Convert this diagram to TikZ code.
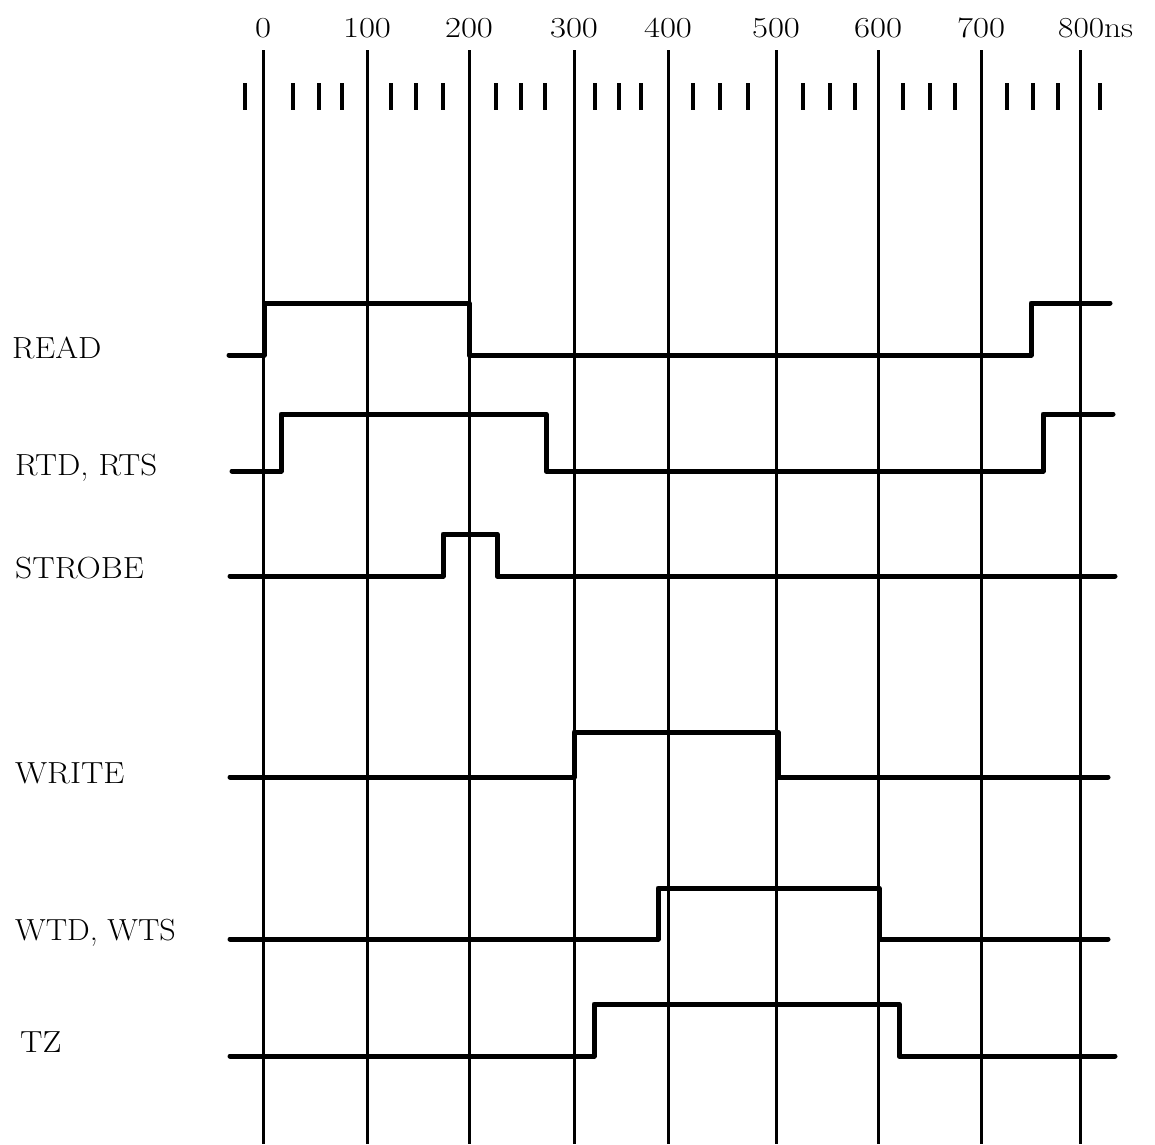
\documentclass[tikz,border=0pt]{standalone}
\begin{document}
\begin{tikzpicture}[x=1pt,y=-1pt,
  gridline/.style={line width=3pt},
  sig/.style={line width=5pt, line join=round, line cap=round},
  tck/.style={line width=4pt},
  lbl/.style={anchor=base west, inner sep=0pt, font=\fontsize{30.5}{36}\selectfont},
  num/.style={anchor=base, inner sep=0pt, font=\fontsize{29}{34}\selectfont}]
\useasboundingbox (0,0) rectangle (1155,1144);
% time axis labels
\foreach \x/\n in {263/0,367/100,469/200,574/300,668/400,776/500,878/600,981/700}{
  \node[num] (n\n) at (\x,37) {\scalebox{1.2}[1]{\n}};
}
\node[num, anchor=base west] (n800) at (1058,37) {\scalebox{1.15}[1]{800ns}};
% grid lines
\foreach \x in {263,367,469,574,668,776,878,981,1080}{
  \draw[gridline] (\x,50) -- (\x,1144);
}
% small ticks
\foreach \x in {245,293,319,342,391,416,443,496,521,545,595,619,641,693,720,748,803,830,855,903,930,955,1007,1033,1058,1100}{
  \draw[tck] (\x,83) -- (\x,110);
}
% signal labels
\node[lbl] (lread) at (12,358) {\scalebox{1.08}[1]{READ}};
\node[lbl] (lrtd) at (15,475) {\scalebox{1.08}[1]{RTD, RTS}};
\node[lbl] (lstrobe) at (15,578) {\scalebox{1.1}[1]{STROBE}};
\node[lbl] (lwrite) at (15,783) {\scalebox{1.1}[1]{WRITE}};
\node[lbl] (lwtd) at (15,940) {\scalebox{1.05}[1]{WTD, WTS}};
\node[lbl] (ltz) at (20,1052) {\scalebox{1.1}[1]{TZ}};
% waveforms
\draw[sig] (229,355) -| (264,303) -| (469,355) -| (1031,303) -- (1110,303);
\draw[sig] (232,471) -| (281,414) -| (546,471) -| (1043,414) -- (1113,414);
\draw[sig] (230,576) -| (443,534) -| (497,576) -- (1115,576);
\draw[sig] (230,777) -| (574,732) -| (778,777) -- (1108,777);
\draw[sig] (230,939) -| (658,888) -| (879,939) -- (1108,939);
\draw[sig] (230,1056) -| (594,1004) -| (899,1056) -- (1115,1056);
\end{tikzpicture}
\end{document}
